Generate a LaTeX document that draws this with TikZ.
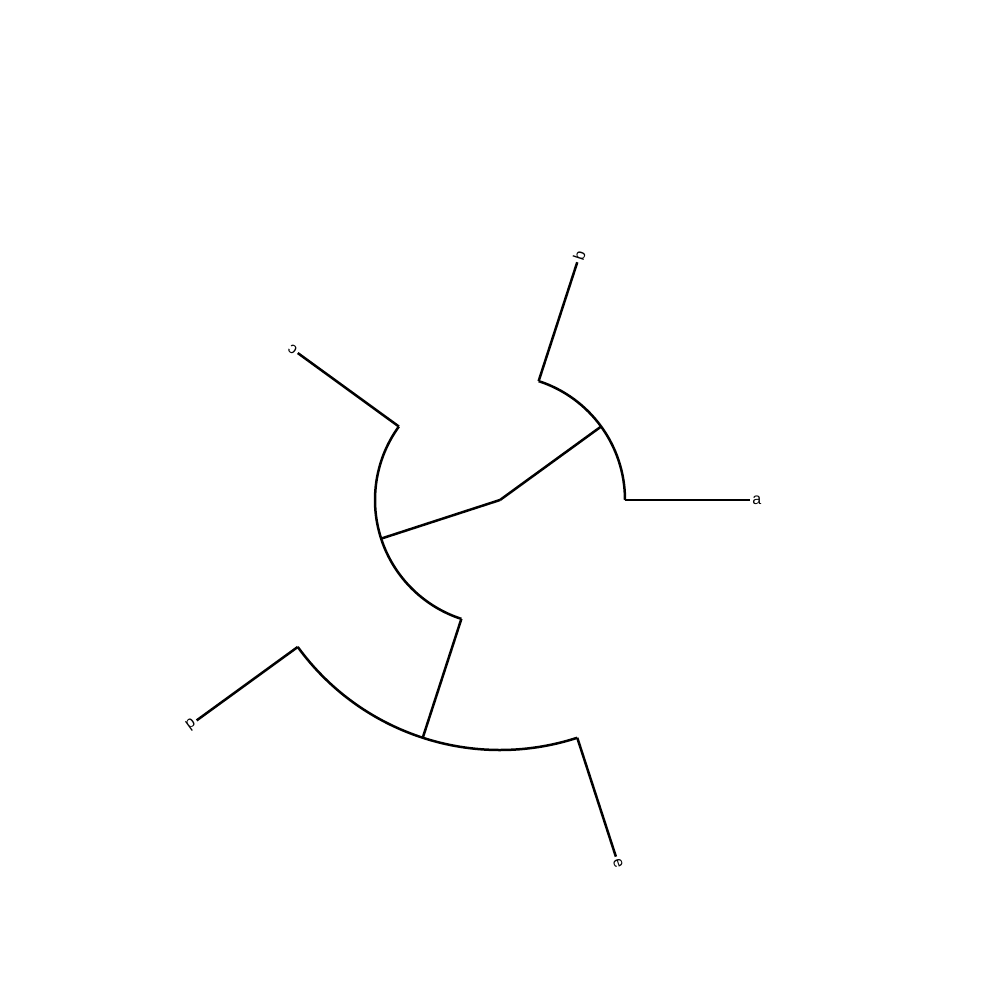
\documentclass[tikz,border=0pt]{standalone}
\usepackage{fontspec}
\setmainfont{Liberation Sans}
\begin{document}
\begin{tikzpicture}[x=1pt,y=1pt,line width=2.5pt,
  br/.style={draw,line join=miter},
  lab/.style={anchor=west,inner sep=1pt,font=\fontsize{16}{16}\selectfont}]
\useasboundingbox (0,0) rectangle (1000,1000);
\begin{scope}[shift={(500,500)}]
\coordinate (root) at (0,0);
\coordinate (ab) at (36:125);
\coordinate (cde) at (198:125);
\coordinate (ia) at (0:125);
\coordinate (ib) at (72:125);
\coordinate (ic) at (144:125);
\coordinate (ide) at (252:125);
\coordinate (de) at (252:250);
\coordinate (id) at (216:250);
\coordinate (ie) at (288:250);
\coordinate (ta) at (0:250);
\coordinate (tb) at (72:250);
\coordinate (tc) at (144:250);
\coordinate (td) at (216:375);
\coordinate (te) at (288:375);
\draw[br] (root) -- (ab);
\draw[br] (root) -- (cde);
\draw[br] (ia) arc[start angle=0,end angle=72,radius=125];
\draw[br] (ic) arc[start angle=144,end angle=252,radius=125];
\draw[br] (id) arc[start angle=216,end angle=288,radius=250];
\draw[br] (ide) -- (de);
\draw[br] (ia) -- (ta);
\draw[br] (ib) -- (tb);
\draw[br] (ic) -- (tc);
\draw[br] (id) -- (td);
\draw[br] (ie) -- (te);
\node[lab,rotate=0] (la) at (ta) {a};
\node[lab,rotate=72] (lb) at (tb) {b};
\node[lab,rotate=144] (lc) at (tc) {c};
\node[lab,rotate=216] (ld) at (td) {d};
\node[lab,rotate=288] (le) at (te) {e};
\end{scope}
\end{tikzpicture}
\end{document}
